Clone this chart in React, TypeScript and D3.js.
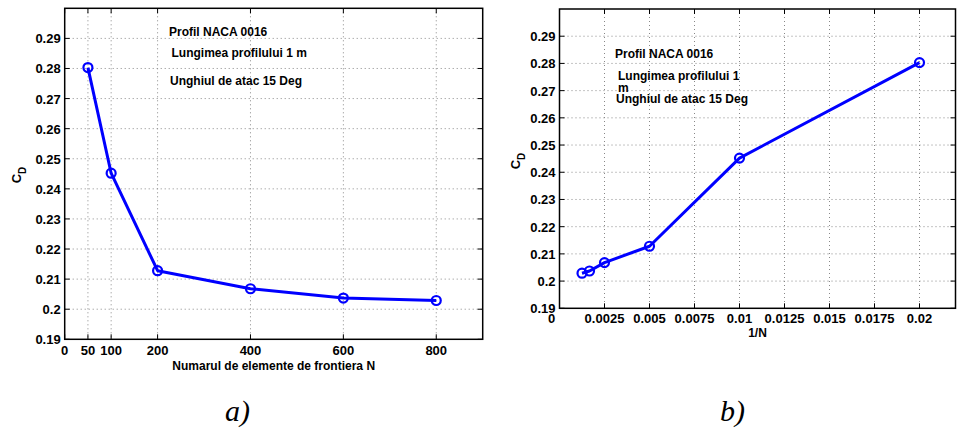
import React from "react";
import * as d3 from "d3";

const nValues = [50, 100, 200, 400, 600, 800];
const invN = [1 / 800, 1 / 600, 1 / 400, 1 / 200, 1 / 100, 1 / 50];
const cdByN = [0.2803, 0.2452, 0.2128, 0.2068, 0.2037, 0.2029];
const cdByInv = [0.2029, 0.2037, 0.2068, 0.2128, 0.2452, 0.2803];
const yTicks = [0.19, 0.2, 0.21, 0.22, 0.23, 0.24, 0.25, 0.26, 0.27, 0.28, 0.29];
const xTicksA = [0, 50, 100, 200, 400, 600, 800];
const xTicksB = [0, 0.0025, 0.005, 0.0075, 0.01, 0.0125, 0.015, 0.0175, 0.02];
const xTickLabelsB = ["0", "0.0025", "0.005", "0.0075", "0.01", "0.0125", "0.015", "0.0175", "0.02"];
const annotA = ["Profil NACA 0016", "Lungimea profilului 1 m", "Unghiul de atac 15 Deg"];
const annotB = ["Profil NACA 0016", "Lungimea profilului 1", "m", "Unghiul de atac 15 Deg"];

const FONT = "'Liberation Sans', Arial, sans-serif";
const BLUE = "#0000ff";

type PanelProps = {
  left: number; top: number; right: number; bottom: number;
  xDomain: [number, number];
  xs: number[]; ys: number[];
  xTicks: number[]; xLabels: string[];
  xTitle: string; xTitleY: number; xLabelY: number;
  yTitleX: number; yTitleY: number;
  annot: { text: string; x: number; y: number }[];
  zeroDx: number;
  gridX: number[];
};

function Panel(p: PanelProps) {
  const x = d3.scaleLinear().domain(p.xDomain).range([p.left, p.right]);
  const y = d3.scaleLinear().domain([0.19, 0.3]).range([p.bottom, p.top]);
  const line = d3.line<number>().x((_, i) => x(p.xs[i])).y((d) => y(d));
  const tl = 5;
  return (
    <g>
      {p.gridX.map((t) => (
        <line key={"gx" + t} x1={x(t)} x2={x(t)} y1={p.top} y2={p.bottom}
          stroke="#888" strokeWidth={1} strokeDasharray="1,3" />
      ))}
      {yTicks.filter((t) => t > 0.195).map((t) => (
        <line key={"gy" + t} x1={p.left} x2={p.right} y1={y(t)} y2={y(t)}
          stroke="#888" strokeWidth={1} strokeDasharray="1,3" />
      ))}
      {p.xTicks.map((t) => (
        <g key={"tx" + t}>
          <line x1={x(t)} x2={x(t)} y1={p.bottom} y2={p.bottom - tl} stroke="#000" />
          <line x1={x(t)} x2={x(t)} y1={p.top} y2={p.top + tl} stroke="#000" />
        </g>
      ))}
      {yTicks.map((t) => (
        <g key={"ty" + t}>
          <line x1={p.left} x2={p.left + tl} y1={y(t)} y2={y(t)} stroke="#000" />
          <line x1={p.right} x2={p.right - tl} y1={y(t)} y2={y(t)} stroke="#000" />
          <text x={p.left - 4} y={y(t) + 5} textAnchor="end" fontFamily={FONT}
            fontWeight="bold" fontSize={13} fill="#000">{String(t)}</text>
        </g>
      ))}
      {p.xTicks.map((t, i) => (
        <text key={"lx" + t} x={x(t) + (t === 0 ? p.zeroDx : 0)} y={p.xLabelY} textAnchor="middle"
          fontFamily={FONT} fontWeight="bold" fontSize={13} fill="#000">{p.xLabels[i]}</text>
      ))}
      <rect x={p.left} y={p.top} width={p.right - p.left} height={p.bottom - p.top}
        fill="none" stroke="#000" strokeWidth={1.5} />
      <path d={line(p.ys) || ""} fill="none" stroke={BLUE} strokeWidth={3} strokeLinejoin="round" />
      {p.ys.map((v, i) => (
        <circle key={"m" + i} cx={x(p.xs[i])} cy={y(v)} r={4.5} fill="none" stroke={BLUE} strokeWidth={2.2} />
      ))}
      {p.annot.map((a, i) => (
        <text key={"an" + i} x={a.x} y={a.y} fontFamily={FONT} fontWeight="bold" fontSize={12} fill="#000">{a.text}</text>
      ))}
      <text x={(p.left + p.right) / 2 - 0} y={p.xTitleY} textAnchor="middle" fontFamily={FONT}
        fontWeight="bold" fontSize={12} fill="#000">{p.xTitle}</text>
      <text transform={`translate(${p.yTitleX},${p.yTitleY}) rotate(-90)`} textAnchor="middle"
        fontFamily={FONT} fontWeight="bold" fontSize={13} fill="#000">
        C<tspan fontSize={10} dy={5}>D</tspan>
      </text>
    </g>
  );
}

export default function App() {
  return (
    <svg width={957} height={430} style={{ position: "absolute", left: 0, top: 0, background: "#fff" }}>
      <rect width={957} height={430} fill="#fff" />
      <Panel left={64.7} top={8.3} right={482.7} bottom={339.3} xDomain={[0, 900]}
        xs={nValues} ys={cdByN} xTicks={xTicksA} xLabels={xTicksA.map(String)}
        xTitle="Numarul de elemente de frontiera N" xTitleY={370} xLabelY={355}
        yTitleX={21} yTitleY={175}
        annot={[
          { text: annotA[0], x: 169, y: 36 },
          { text: annotA[1], x: 171.5, y: 57 },
          { text: annotA[2], x: 170, y: 85 },
        ]}
        zeroDx={0} gridX={xTicksA.filter((t) => t > 0)} />
      <Panel left={559.5} top={9} right={955.5} bottom={308.3} xDomain={[0, 0.022]}
        xs={invN} ys={cdByInv} xTicks={xTicksB} xLabels={xTickLabelsB}
        xTitle="1/N" xTitleY={337} xLabelY={323}
        yTitleX={520} yTitleY={161}
        annot={[
          { text: annotB[0], x: 615, y: 58 },
          { text: annotB[1], x: 618, y: 80 },
          { text: annotB[2], x: 618, y: 91.5 },
          { text: annotB[3], x: 616, y: 103 },
        ]}
        zeroDx={-8} gridX={xTicksB.filter((t) => t > 0)} />
      <text x={225} y={421} fontFamily="'Liberation Serif', 'Times New Roman', serif" fontStyle="italic" fontSize={30} fill="#000">a)</text>
      <text x={720} y={421} fontFamily="'Liberation Serif', 'Times New Roman', serif" fontStyle="italic" fontSize={30} fill="#000">b)</text>
    </svg>
  );
}
